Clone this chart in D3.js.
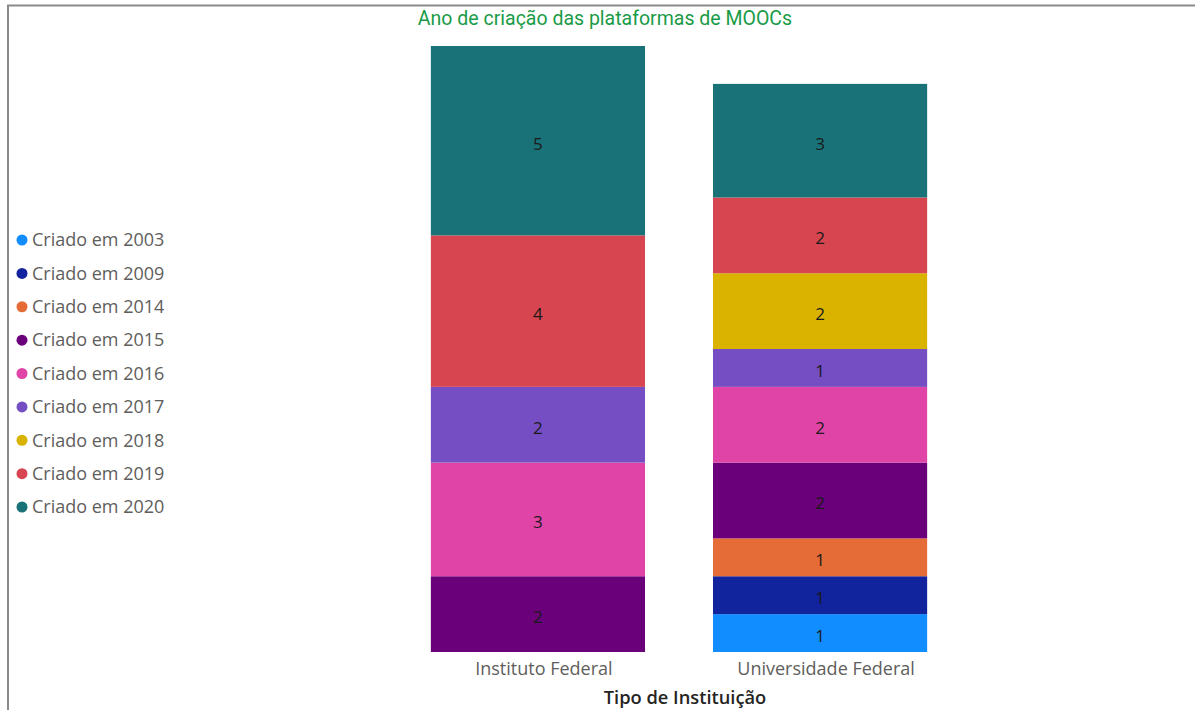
<!DOCTYPE html>
<html>
<head>
<meta charset="utf-8">
<script src="https://cdn.jsdelivr.net/npm/d3@7"></script>
<style>
  html, body { margin: 0; padding: 0; background: #fff; }
  svg { display: block; }
</style>
</head>
<body>
<svg id="chart" width="1195" height="710"></svg>
<script>
// Institution types (x axis)
const categories = ["Instituto Federal", "Universidade Federal"];
// Creation-year series, bottom to top of the stack
const years = ["Criado em 2003", "Criado em 2009", "Criado em 2014", "Criado em 2015",
               "Criado em 2016", "Criado em 2017", "Criado em 2018", "Criado em 2019", "Criado em 2020"];
const colors = ["#118DFF", "#12239E", "#E66C37", "#6B007B", "#E044A7",
                "#744EC2", "#D9B300", "#D64550", "#197278"];
// Counts per year, one array per institution type (same order as years)
const institutoFederal = [0, 0, 0, 2, 3, 2, 0, 4, 5];
const universidadeFederal = [1, 1, 1, 2, 2, 1, 2, 2, 3];

const titleText = "Ano de criação das plataformas de MOOCs";
const xAxisTitle = "Tipo de Instituição";

const rows = categories.map((c, i) => {
  const vals = i === 0 ? institutoFederal : universidadeFederal;
  const r = { category: c };
  years.forEach((y, j) => r[y] = vals[j]);
  return r;
});

const svg = d3.select("#chart");
const font = "'Open Sans', 'Noto Sans', sans-serif";

// frame lines (top and left)
svg.append("line").attr("x1", 7).attr("x2", 1195).attr("y1", 5.5).attr("y2", 5.5)
  .attr("stroke", "#8a8a8a").attr("stroke-width", 2);
svg.append("line").attr("x1", 8).attr("x2", 8).attr("y1", 5).attr("y2", 710)
  .attr("stroke", "#8a8a8a").attr("stroke-width", 2);

// title
svg.append("text")
  .attr("x", 605).attr("y", 25)
  .attr("text-anchor", "middle")
  .attr("font-family", "'Roboto', 'Open Sans', sans-serif")
  .attr("font-size", 19.5)
  .attr("fill", "#1A9B47")
  .text(titleText);

const x = d3.scaleBand().domain(categories).range([397, 961])
  .paddingInner(0.241).paddingOuter(0.12);
const yMax = d3.max(rows, r => d3.sum(years, k => r[k]));
const y = d3.scaleLinear().domain([0, yMax]).range([652, 46]);
const color = d3.scaleOrdinal().domain(years).range(colors);

const stack = d3.stack().keys(years)(rows);

const layers = svg.append("g").selectAll("g").data(stack).join("g")
  .attr("fill", d => color(d.key));

layers.selectAll("rect").data(d => d.filter(s => s[1] - s[0] > 0)).join("rect")
  .attr("x", d => x(d.data.category))
  .attr("width", x.bandwidth())
  .attr("y", d => y(d[1]))
  .attr("height", d => y(d[0]) - y(d[1]));

// value labels
const labelG = svg.append("g");
stack.forEach(layer => {
  layer.filter(s => s[1] - s[0] > 0).forEach(s => {
    labelG.append("text")
      .attr("x", x(s.data.category) + x.bandwidth() / 2)
      .attr("y", (y(s[0]) + y(s[1])) / 2 + 3)
      .attr("dy", "0.35em")
      .attr("text-anchor", "middle")
      .attr("font-family", font)
      .attr("font-size", 17)
      .attr("fill", "#1a1a1a")
      .text(s[1] - s[0]);
  });
});

// x axis
const xAxis = svg.append("g").attr("transform", "translate(0,652)")
  .call(d3.axisBottom(x).tickSize(0).tickPadding(10));
xAxis.select(".domain").remove();
xAxis.selectAll("text")
  .attr("dx", 6)
  .attr("font-family", font).attr("font-size", 18).attr("fill", "#605E5C");

svg.append("text")
  .attr("x", 685).attr("y", 704)
  .attr("text-anchor", "middle")
  .attr("font-family", font)
  .attr("font-size", 18.3)
  .attr("font-weight", 600)
  .attr("fill", "#252423")
  .text(xAxisTitle);

// legend
const legend = svg.append("g");
const ly = d3.scalePoint().domain(years).range([240, 507]);
years.forEach(k => {
  const g = legend.append("g").attr("transform", `translate(0,${ly(k)})`);
  g.append("circle").attr("cx", 22).attr("cy", 0).attr("r", 5.5).attr("fill", color(k));
  g.append("text").attr("x", 32).attr("y", 0).attr("dy", "0.35em")
    .attr("font-family", font).attr("font-size", 18).attr("fill", "#605E5C")
    .text(k);
});
</script>
</body>
</html>
